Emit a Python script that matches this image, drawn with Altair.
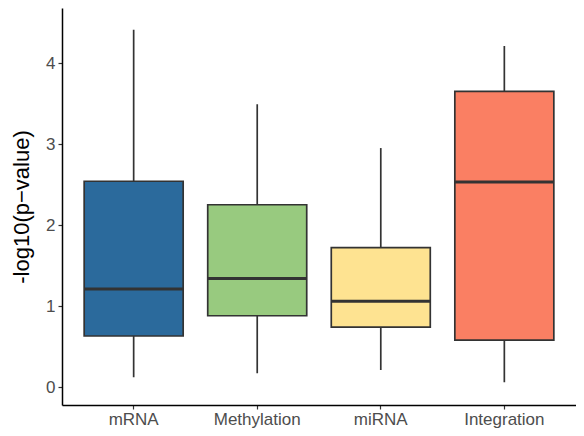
import altair as alt
import pandas as pd

categories = ["mRNA", "Methylation", "miRNA", "Integration"]
mins = [0.12, 0.17, 0.21, 0.06]
q1s = [0.63, 0.88, 0.74, 0.58]
medians = [1.21, 1.34, 1.06, 2.53]
q3s = [2.54, 2.25, 1.72, 3.65]
maxs = [4.41, 3.49, 2.95, 4.21]
colors = ["#2B6A9C", "#98CA7F", "#FEE391", "#FA7F63"]

df = pd.DataFrame({"cat": categories, "lo": mins, "q1": q1s, "med": medians, "q3": q3s, "hi": maxs})

xaxis = alt.Axis(labelAngle=0, labelColor="#4D4D4D", labelFontSize=17, labelFont="Liberation Sans",
                 domainColor="black", domainWidth=1.5, tickColor="#333333", tickSize=4,
                 tickWidth=1.2, labelPadding=2)
xscale = alt.Scale(paddingInner=0, paddingOuter=0.08)
yscale = alt.Scale(domain=[-0.222, 4.679], nice=False, zero=False)
yaxis = alt.Axis(values=[0, 1, 2, 3, 4], format="d", grid=False, labelColor="#4D4D4D", labelFontSize=17,
                 labelFont="Liberation Sans", domainColor="black", domainWidth=1.5, tickColor="#333333",
                 tickSize=4, tickWidth=1.2, labelPadding=3, title="-log10(p−value)", titleFontSize=22,
                 titleFont="Liberation Sans", titleFontWeight="normal", titleColor="black", titlePadding=12)

base = alt.Chart(df)
xenc = alt.X("cat:N", sort=categories, title=None, scale=xscale, axis=xaxis)
whisk = base.mark_rule(color="#333333", strokeWidth=1.7).encode(
    x=xenc, y=alt.Y("lo:Q", scale=yscale, axis=yaxis), y2="hi:Q")
box = base.mark_bar(size=99, stroke="#333333", strokeWidth=1.7).encode(
    x=xenc, y=alt.Y("q1:Q", scale=yscale, axis=yaxis), y2="q3:Q",
    color=alt.Color("cat:N", sort=categories, scale=alt.Scale(domain=categories, range=colors), legend=None))
med = base.mark_tick(size=99, thickness=3, color="#333333", opacity=1).encode(
    x=xenc, y=alt.Y("med:Q", scale=yscale, axis=yaxis))

chart = alt.layer(whisk, box, med).properties(
    width=514, height=397,
    autosize=alt.AutoSizeParams(type="none"),
    padding={"left": 54, "top": 0, "right": 0, "bottom": 23},
).configure_view(stroke=None)

chart.save("out.html", embed_options={"renderer": "svg", "actions": False})
